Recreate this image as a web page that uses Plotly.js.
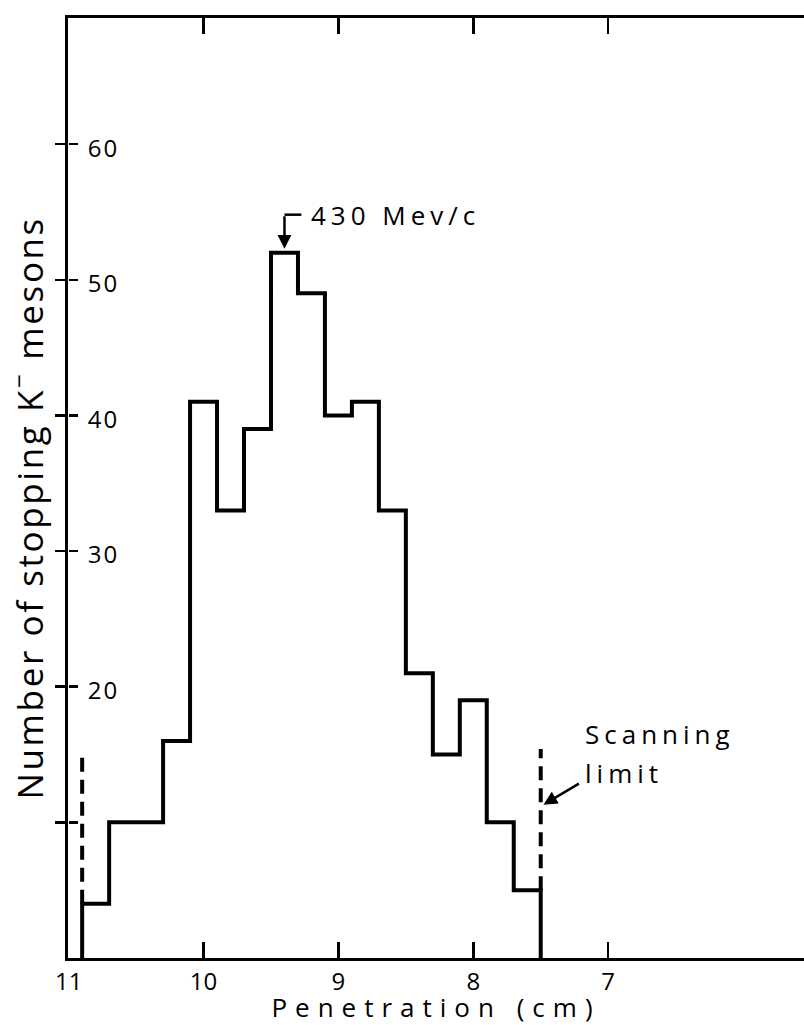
<!DOCTYPE html>
<html><head><meta charset="utf-8">
<script src="https://cdn.plot.ly/plotly-3.0.1.min.js"></script>
<style>
html,body{margin:0;padding:0;background:#fff;}
#chart{width:804px;height:1025px;}
.xtitle{letter-spacing:8px;}
.y2tick text{letter-spacing:2px;}
.annotation-text{letter-spacing:5px;}
.annotation[data-index="5"] .annotation-text{letter-spacing:2.6px;}
</style></head><body><div id="chart"></div>
<script>
// Histogram bin edges (cm of penetration) and counts of stopping K- mesons
const binEdges = [10.9, 10.7, 10.5, 10.3, 10.1, 9.9, 9.7, 9.5, 9.3, 9.1, 8.9, 8.7, 8.5, 8.3, 8.1, 7.9, 7.7, 7.5];
const counts   = [4, 10, 10, 16, 41, 33, 39, 52, 49, 40, 41, 33, 21, 15, 19, 10, 5];
const xTickVals = [11, 10, 9, 8, 7];
const xTickText = ['11', '10', '9', '8', '7'];
const yTickVals = [10, 20, 30, 40, 50, 60];
const yTickText = ['', '20', '30', '40', '50', '60'];
// Scanning limit dashed markers: positions and top values
const scanLimitEdges = [10.9, 7.5];
const scanLimitTops = [14.8, 15.4];
const peakLabel = '430 Mev/c';
const peakLabelLevel = 54.8;
const scanLabelLines = ['Scanning', 'limit'];
const scanLabelX = 7.19;
const scanLabelYs = [16.55, 13.65];
const scanArrowPoint = [7.48, 11.3];
const yTitle = 'Number of stopping K<sup>\u2212</sup> mesons';
const xTitle = 'Penetration (cm)';

const FONT = 'Open Sans, Lato, DejaVu Sans, sans-serif';

// step outline
const sx = [binEdges[0]], sy = [0];
for (let i = 0; i < counts.length; i++) { sx.push(binEdges[i]); sy.push(counts[i]); }
sx.push(binEdges[binEdges.length - 1]); sy.push(counts[counts.length - 1]);
sx.push(binEdges[binEdges.length - 1]); sy.push(0);

const traces = [{
  type: 'scatter', mode: 'lines', x: sx, y: sy,
  line: {shape: 'hv', color: '#000', width: 4}, hoverinfo: 'skip', showlegend: false
}];
scanLimitEdges.forEach((e, k) => {
  const base = k === 0 ? counts[0] : counts[counts.length - 1];
  traces.push({
    type: 'scatter', mode: 'lines', x: [e, e], y: [base, scanLimitTops[k]],
    line: {color: '#000', width: 4, dash: '14px,8px'}, showlegend: false, hoverinfo: 'skip'
  });
});
// invisible trace for the secondary y axis (inner ticks + labels)
traces.push({type: 'scatter', mode: 'lines', x: [binEdges[0]], y: [0], yaxis: 'y2',
  line: {width: 0}, showlegend: false, hoverinfo: 'skip'});

const peakIdx = counts.indexOf(Math.max(...counts));
const peakX = (binEdges[peakIdx] + binEdges[peakIdx + 1]) / 2;
const peakY = counts[peakIdx];
const peakTextX = binEdges[peakIdx + 1] - 0.085;

const yRange = [0, 69.3];
const blackFont = (s) => ({size: s, family: FONT, color: '#000'});
const layout = {
  width: 804, height: 1025,
  margin: {l: 68, r: 0, t: 18, b: 67},
  paper_bgcolor: '#fff', plot_bgcolor: '#fff',
  font: {family: FONT, color: '#000'},
  xaxis: {
    range: [11.005, 5.548], tickvals: xTickVals, ticktext: xTickText,
    ticks: 'inside', ticklen: 16, tickwidth: 2.5, tickcolor: '#000',
    showline: true, linewidth: 3, linecolor: '#000', mirror: 'ticks',
    showgrid: false, zeroline: false,
    tickfont: blackFont(24),
    title: {text: xTitle, font: blackFont(26), standoff: 0}
  },
  yaxis: {
    range: yRange, tickvals: yTickVals,
    ticks: 'outside', ticklen: 10, tickwidth: 2.5, tickcolor: '#000',
    showticklabels: false,
    showline: true, linewidth: 3, linecolor: '#000', mirror: false,
    showgrid: false, zeroline: false
  },
  yaxis2: {
    overlaying: 'y', side: 'right', anchor: 'free', position: 0,
    range: yRange, tickvals: yTickVals, ticktext: yTickText,
    ticks: 'outside', ticklen: 9, tickwidth: 2.5, tickcolor: '#000',
    ticklabelstandoff: 5, ticklabelshift: 4,
    tickfont: blackFont(24),
    showline: false, showgrid: false, zeroline: false
  },
  shapes: [{
    type: 'line', xref: 'x', yref: 'y', x0: peakX, x1: binEdges[peakIdx + 1] - 0.025,
    y0: peakLabelLevel, y1: peakLabelLevel, line: {color: '#000', width: 2.5}
  }],
  annotations: [
    {x: peakX, y: peakY, xref: 'x', yref: 'y', ax: peakX, ay: peakLabelLevel, axref: 'x', ayref: 'y',
     text: '', showarrow: true, arrowhead: 2, arrowsize: 1.1, arrowwidth: 2.5, arrowcolor: '#000', standoff: 4},
    {x: peakTextX, y: peakLabelLevel, xref: 'x', yref: 'y', xanchor: 'left', yanchor: 'middle',
     text: peakLabel, showarrow: false, font: blackFont(26)},
    {x: scanArrowPoint[0], y: scanArrowPoint[1], xref: 'x', yref: 'y', ax: 37, ay: -22,
     text: '', showarrow: true, arrowhead: 2, arrowsize: 1.1, arrowwidth: 2.5, arrowcolor: '#000', standoff: 0},
    {x: scanLabelX, y: scanLabelYs[0], xref: 'x', yref: 'y', xanchor: 'left', yanchor: 'middle',
     text: scanLabelLines[0], showarrow: false, font: blackFont(26)},
    {x: scanLabelX, y: scanLabelYs[1], xref: 'x', yref: 'y', xanchor: 'left', yanchor: 'middle',
     text: scanLabelLines[1], showarrow: false, font: blackFont(26)},
    {x: -40 / 736, y: (958 - 508) / 940, xref: 'paper', yref: 'paper', xanchor: 'center', yanchor: 'middle',
     textangle: -90, text: yTitle, showarrow: false, font: blackFont(35)}
  ]
};
Plotly.newPlot('chart', traces, layout, {displayModeBar: false, staticPlot: true});
</script></body></html>
